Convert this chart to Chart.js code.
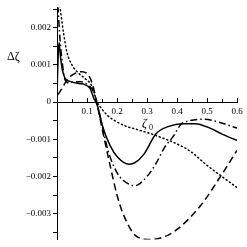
<!DOCTYPE html>
<html>
<head>
<meta charset="utf-8">
<script src="https://cdn.jsdelivr.net/npm/chart.js@4/dist/chart.umd.min.js"></script>
<style>
html, body { margin: 0; padding: 0; background: #fff; }
canvas { display: block; }
</style>
</head>
<body>
<canvas id="chart" width="247" height="247"></canvas>
<script>
// values
const solidX = [0, 0.004, 0.007, 0.01, 0.017, 0.027, 0.043, 0.073, 0.093, 0.11, 0.123, 0.135, 0.15, 0.177, 0.203, 0.24, 0.26, 0.29, 0.33, 0.37, 0.42, 0.46, 0.51, 0.55, 0.6];
const solidY = [0.0002, 0.0013, 0.0016, 0.00135, 0.0009, 0.00064, 0.00056, 0.0005, 0.00047, 0.00037, 0.0001, -0.0001, -0.0006, -0.00117, -0.00149, -0.00167, -0.00163, -0.0014, -0.00085, -0.00066, -0.00058, -0.00058, -0.0007, -0.00086, -0.00103];

const dashX = [0.003, 0.017, 0.033, 0.06, 0.083, 0.107, 0.123, 0.135, 0.15, 0.177, 0.2, 0.22, 0.263, 0.31, 0.387, 0.477, 0.553, 0.6];
const dashY = [0.0002, 0.00037, 0.0006, 0.00077, 0.00082, 0.0007, 0.00034, -0.0001, -0.0007, -0.0017, -0.0025, -0.003, -0.0036, -0.0037, -0.0035, -0.0028, -0.0019, -0.0013];

const dashDotX = [0.003, 0.01, 0.017, 0.027, 0.04, 0.06, 0.08, 0.1, 0.12, 0.135, 0.15, 0.17, 0.2, 0.22, 0.26, 0.3, 0.33, 0.36, 0.387, 0.413, 0.443, 0.49, 0.543, 0.6];
const dashDotY = [0.0026, 0.0017, 0.0011, 0.0006, 0.00052, 0.00055, 0.00055, 0.00048, 0.0003, -0.0001, -0.0006, -0.0013, -0.0019, -0.0021, -0.00225, -0.002, -0.00165, -0.0012, -0.00093, -0.0006, -0.0005, -0.00046, -0.00055, -0.0007];

const dotX = [0.005, 0.01, 0.023, 0.033, 0.05, 0.073, 0.093, 0.117, 0.133, 0.15, 0.17, 0.193, 0.227, 0.26, 0.33, 0.44, 0.5, 0.6];
const dotY = [0.0028, 0.00255, 0.0018, 0.00135, 0.001, 0.00077, 0.00064, 0.00042, 0.00002, -0.00019, -0.00037, -0.0005, -0.00064, -0.00072, -0.0009, -0.0013, -0.0017, -0.0023];

const xMajorTicks = [0.1, 0.2, 0.3, 0.4, 0.5, 0.6];
const xTickLabels = ['0.1', '0.2', '0.3', '0.4', '0.5', '0.6'];
const yMajorTicks = [-0.003, -0.002, -0.001, 0, 0.001, 0.002];
const yTickLabels = ['\u22120.003', '\u22120.002', '\u22120.001', '0', '0.001', '0.002'];

const yTitle = '\u0394\u03B6';
const xTitle = '\u03B6';
const xTitleSub = '0';

const serif = '"Liberation Serif", "DejaVu Serif", serif';

function pts(xs, ys) {
    return xs.map((x, i) => ({ x: x, y: ys[i] }));
}

function labelFor(value, majors, labels) {
    const i = majors.findIndex(m => Math.abs(m - value) < 1e-9);
    return i >= 0 ? labels[i] : '';
}

function line(data, dash) {
    return {
        data: data,
        showLine: true,
        borderColor: '#000',
        borderWidth: 1.5,
        borderDash: dash,
        borderCapStyle: dash.length === 2 && dash[0] < 2 ? 'round' : 'butt',
        pointRadius: 0,
        cubicInterpolationMode: 'monotone',
        fill: false
    };
}

// axis titles and upward x tick marks
const extras = {
    id: 'extras',
    afterDraw(chart) {
        const ctx = chart.ctx;
        const xs = chart.scales.x;
        const y0 = chart.scales.y.getPixelForValue(0);
        ctx.save();
        ctx.strokeStyle = '#000';
        ctx.lineWidth = 1;
        xs.ticks.forEach(t => {
            const px = Math.round(xs.getPixelForValue(t.value)) + 0.5;
            const len = labelFor(t.value, xMajorTicks, xTickLabels) ? 4 : 3;
            ctx.beginPath();
            ctx.moveTo(px, y0);
            ctx.lineTo(px, y0 - len);
            ctx.stroke();
        });
        ctx.fillStyle = '#000';
        ctx.textBaseline = 'middle';
        ctx.font = '12px ' + serif;
        ctx.fillText(yTitle, 7, 57);
        ctx.font = 'italic 12px ' + serif;
        ctx.fillText(xTitle, 142, 124);
        ctx.font = '8px ' + serif;
        ctx.fillText(xTitleSub, 149, 128);
        ctx.restore();
    }
};

new Chart(document.getElementById('chart'), {
    type: 'scatter',
    data: {
        datasets: [
            line(pts(solidX, solidY), []),
            line(pts(dashX, dashY), [7, 4]),
            line(pts(dashDotX, dashDotY), [7, 3, 1.5, 3]),
            line(pts(dotX, dotY), [1, 3])
        ]
    },
    options: {
        responsive: false,
        animation: false,
        devicePixelRatio: 1,
        layout: { padding: { left: 0, right: 10, top: 5, bottom: 6 } },
        plugins: { legend: { display: false }, tooltip: { enabled: false } },
        scales: {
            x: {
                type: 'linear',
                min: 0,
                max: 0.6,
                position: { y: 0 },
                afterBuildTicks: scale => {
                    const t = [];
                    for (let i = 1; i <= 12; i++) t.push({ value: i * 0.05 });
                    scale.ticks = t;
                },
                ticks: {
                    autoSkip: false,
                    maxRotation: 0,
                    padding: 4,
                    color: '#000',
                    font: { family: serif, size: 9 },
                    callback: v => labelFor(v, xMajorTicks, xTickLabels)
                },
                grid: { drawOnChartArea: false, drawTicks: false },
                border: { color: '#000', width: 1 }
            },
            y: {
                type: 'linear',
                min: -0.0037,
                max: 0.00255,
                position: 'left',
                afterFit: scale => { scale.width = 57; },
                afterBuildTicks: scale => {
                    const t = [];
                    for (let i = -7; i <= 5; i++) t.push({ value: i * 0.0005 });
                    scale.ticks = t;
                },
                ticks: {
                    autoSkip: false,
                    padding: 2,
                    color: '#000',
                    font: { family: serif, size: 9 },
                    callback: v => labelFor(v, yMajorTicks, yTickLabels)
                },
                grid: { drawOnChartArea: false, drawTicks: true, tickLength: 4, tickColor: '#000' },
                border: { color: '#000', width: 1 }
            }
        }
    },
    plugins: [extras]
});
</script>
</body>
</html>
